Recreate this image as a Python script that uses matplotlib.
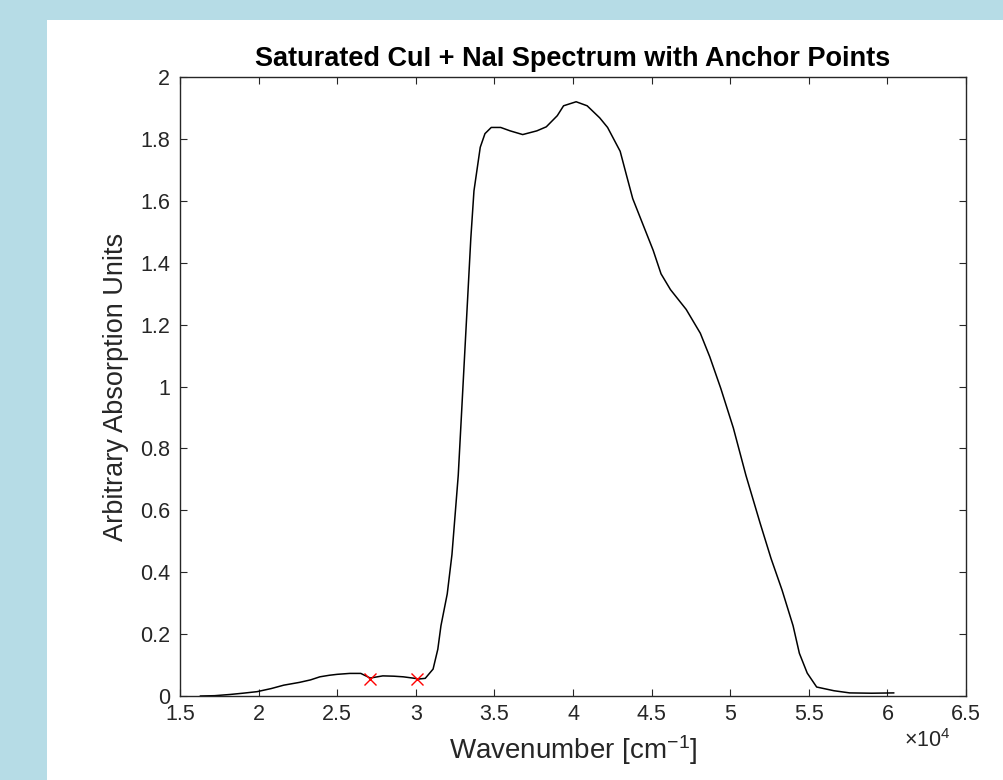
import matplotlib
matplotlib.use('Agg')
import matplotlib.pyplot as plt
from matplotlib.patches import Rectangle

# spectrum, wavenumber in units of 1e4 cm^-1
wavenumber = [1.63, 1.72, 1.82, 1.90, 1.99, 2.08, 2.16, 2.26, 2.33, 2.39,
              2.45, 2.50, 2.58, 2.65, 2.71, 2.79, 2.86, 2.92, 2.98, 3.02,
              3.06, 3.11, 3.14, 3.16, 3.20, 3.23, 3.25, 3.27, 3.29, 3.31,
              3.33, 3.35, 3.37, 3.41, 3.44, 3.48, 3.54, 3.60, 3.68, 3.77,
              3.83, 3.90, 3.94, 4.02, 4.09, 4.17, 4.22, 4.30, 4.34, 4.38,
              4.45, 4.51, 4.56, 4.62, 4.72, 4.81, 4.87, 4.94, 5.02, 5.10,
              5.19, 5.26, 5.33, 5.40, 5.44, 5.49, 5.55, 5.66, 5.76, 5.90,
              6.04]
absorbance = [0.000, 0.001, 0.005, 0.009, 0.014, 0.024, 0.035, 0.044, 0.052, 0.062,
              0.067, 0.070, 0.073, 0.073, 0.058, 0.065, 0.064, 0.062, 0.058, 0.055,
              0.057, 0.087, 0.151, 0.227, 0.330, 0.457, 0.585, 0.713, 0.904, 1.096,
              1.287, 1.479, 1.632, 1.773, 1.817, 1.837, 1.837, 1.826, 1.814, 1.826,
              1.839, 1.875, 1.907, 1.920, 1.907, 1.868, 1.837, 1.760, 1.683, 1.607,
              1.517, 1.440, 1.364, 1.313, 1.249, 1.172, 1.096, 0.994, 0.866, 0.713,
              0.559, 0.444, 0.342, 0.227, 0.138, 0.074, 0.029, 0.017, 0.010, 0.009,
              0.010]

# anchor points (red crosses)
anchor_wn = [2.71, 3.01]
anchor_abs = [0.056, 0.055]

xticks = [1.5, 2, 2.5, 3, 3.5, 4, 4.5, 5, 5.5, 6, 6.5]
xticklabels = ['1.5', '2', '2.5', '3', '3.5', '4', '4.5', '5', '5.5', '6', '6.5']
yticks = [0, 0.2, 0.4, 0.6, 0.8, 1, 1.2, 1.4, 1.6, 1.8, 2]
yticklabels = ['0', '0.2', '0.4', '0.6', '0.8', '1', '1.2', '1.4', '1.6', '1.8', '2']

plt.rcParams['font.family'] = ['Liberation Sans', 'DejaVu Sans']
plt.rcParams['mathtext.fontset'] = 'custom'
plt.rcParams['mathtext.rm'] = 'Liberation Sans'
plt.rcParams['mathtext.it'] = 'Liberation Sans:italic'

W, H = 1004, 780
fig = plt.figure(figsize=(W / 100, H / 100), dpi=100)
fig.patch.set_facecolor('#B6DCE6')
# white figure area (blue strip on left and top)
fig.patches.append(Rectangle((47 / W, 0), 1 - 47 / W, (H - 20) / H,
                             transform=fig.transFigure, facecolor='white',
                             edgecolor='none', zorder=-10))

ax = fig.add_axes([180 / W, 1 - 696 / H, (966 - 180) / W, (696 - 77) / H])
ax.plot(wavenumber, absorbance, color='black', lw=1.1)
ax.plot(anchor_wn, anchor_abs, 'x', color='red', markersize=8, mew=1.0)

ax.set_xlim(1.5, 6.5)
ax.set_ylim(0, 2)
ax.set_xticks(xticks)
ax.set_xticklabels(xticklabels)
ax.set_yticks(yticks)
ax.set_yticklabels(yticklabels)

grey = '#262626'
for s in ax.spines.values():
    s.set_color(grey)
    s.set_linewidth(1.0)
ax.tick_params(direction='in', top=True, right=True, length=5, width=0.8,
               colors=grey, labelsize=15.5)
ax.tick_params(axis='x', pad=6)
ax.tick_params(axis='y', pad=7)

ax.set_title('Saturated CuI + NaI Spectrum with Anchor Points',
             fontsize=19.5, fontweight='bold', color='black', pad=8)
ax.set_ylabel('Arbitrary Absorption Units', fontsize=19.5, color=grey, labelpad=8)
ax.set_xlabel('Wavenumber [cm$^{-1}$]', fontsize=20, color=grey, labelpad=6)
ax.text(0.98, -0.072, r'$\times10^{4}$', transform=ax.transAxes, ha='right',
        va='center', fontsize=15.5, color=grey)

fig.savefig('out.png', dpi=100, facecolor=fig.get_facecolor())
